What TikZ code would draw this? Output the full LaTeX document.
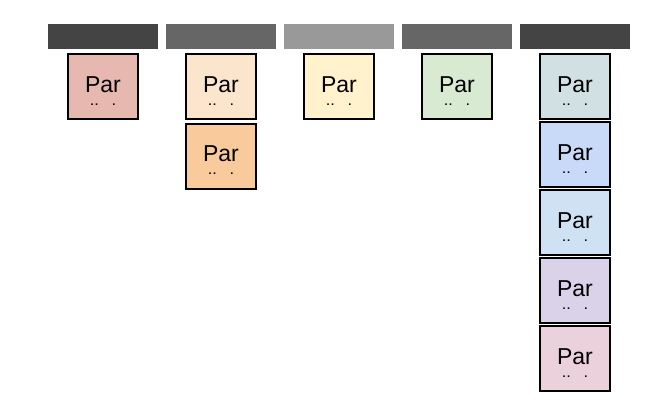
\documentclass[tikz,border=0pt]{standalone}
\usepackage{fontspec}
\setmainfont{Liberation Sans}
\usetikzlibrary{positioning}

\definecolor{hdark}{HTML}{444444}
\definecolor{hmid}{HTML}{666666}
\definecolor{hlight}{HTML}{999999}
\definecolor{redberry}{HTML}{E6B8AF}
\definecolor{lorange}{HTML}{FCE5CD}
\definecolor{morange}{HTML}{F9CB9C}
\definecolor{lyellow}{HTML}{FFF2CC}
\definecolor{lgreen}{HTML}{D9EAD3}
\definecolor{lcyan}{HTML}{D0E0E3}
\definecolor{lcorn}{HTML}{C9DAF8}
\definecolor{lblue}{HTML}{CFE2F3}
\definecolor{lpurple}{HTML}{D9D2E9}
\definecolor{lmagenta}{HTML}{EAD1DC}

\newcommand{\partext}{\rule{0pt}{24pt}Par\\[-12pt]{\fontsize{11}{11}\selectfont\bfseries .\kern1.5pt.\hspace{14pt}.}}

\begin{document}
\begin{tikzpicture}[x=1pt, y=-1pt, node distance=8pt]
    \useasboundingbox (0,0) rectangle (664,420);
    % Styles
    \tikzstyle{header} = [rectangle, minimum width=110pt, minimum height=25pt, inner sep=0pt, outer sep=0pt]
    \tikzstyle{card} = [rectangle, draw, line width=2pt, minimum width=70pt, minimum height=65pt, inner sep=0pt, text centered, align=center, font=\fontsize{23}{25}\selectfont]

    % Headers
    \node [header, fill=hdark] (head1) at (103,36.5) {};
    \node [header, fill=hmid, right=of head1] (head2) {};
    \node [header, fill=hlight, right=of head2] (head3) {};
    \node [header, fill=hmid, right=of head3] (head4) {};
    \node [header, fill=hdark, right=of head4] (head5) {};

    % Cards
    \node [card, fill=redberry, below=4pt of head1] (par1) {\partext};
    \node [card, fill=lorange, below=4pt of head2] (par2a) {\partext};
    \node [card, fill=morange, below=2.5pt of par2a] (par2b) {\partext};
    \node [card, fill=lyellow, below=4pt of head3] (par3) {\partext};
    \node [card, fill=lgreen, below=4pt of head4] (par4) {\partext};
    \node [card, fill=lcyan, below=4pt of head5] (par5a) {\partext};
    \node [card, fill=lcorn, below=1pt of par5a] (par5b) {\partext};
    \node [card, fill=lblue, below=1pt of par5b] (par5c) {\partext};
    \node [card, fill=lpurple, below=1pt of par5c] (par5d) {\partext};
    \node [card, fill=lmagenta, below=1pt of par5d] (par5e) {\partext};
\end{tikzpicture}
\end{document}
